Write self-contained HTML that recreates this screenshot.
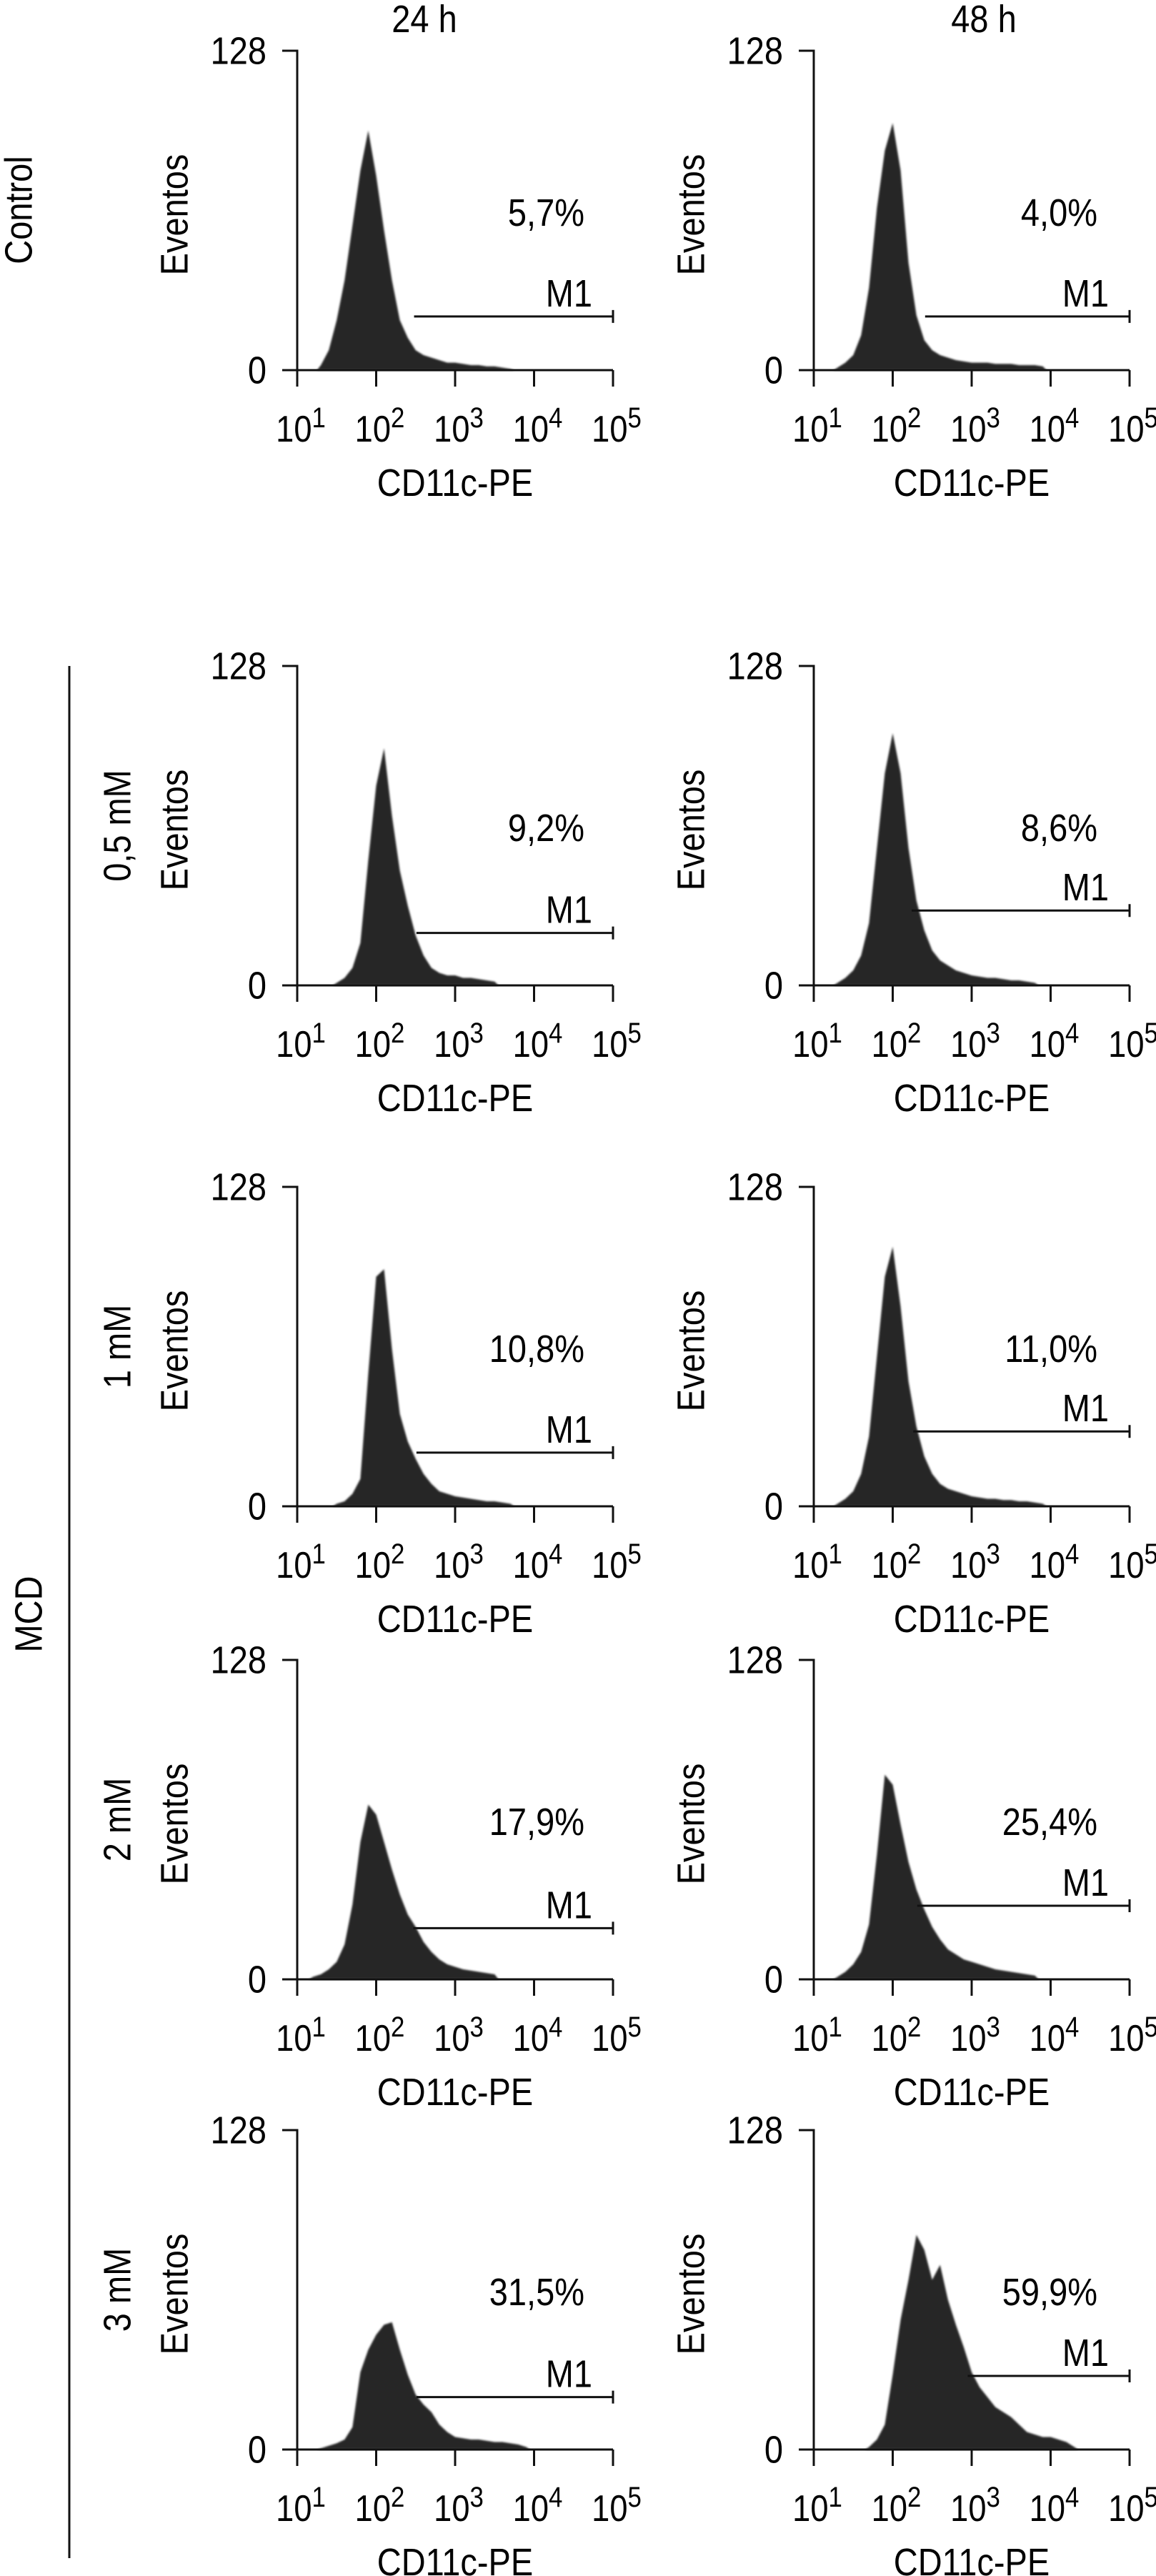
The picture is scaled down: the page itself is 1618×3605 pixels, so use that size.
<!DOCTYPE html>
<html><head><meta charset="utf-8"><style>
html,body{margin:0;padding:0;background:#fff;}
svg{display:block;font-family:"Liberation Sans",Arial,sans-serif;}
</style></head><body>
<svg id="fig" width="1618" height="3605" viewBox="0 0 1618 3605" xmlns="http://www.w3.org/2000/svg">
<defs><filter id="soft" x="-5%" y="-5%" width="110%" height="110%"><feGaussianBlur stdDeviation="1.4"/></filter></defs>
<text transform="translate(594,45) scale(0.87,1)" font-size="54" text-anchor="middle">24 h</text>
<text transform="translate(1377,45) scale(0.87,1)" font-size="54" text-anchor="middle">48 h</text>
<text transform="translate(26,294) rotate(-90) scale(0.87,1)" font-size="54" text-anchor="middle" dominant-baseline="central">Control</text>
<text transform="translate(40,2259) rotate(-90) scale(0.87,1)" font-size="54" text-anchor="middle" dominant-baseline="central">MCD</text>
<line x1="97" y1="932" x2="97" y2="3580" stroke="#111" stroke-width="3"/>
<g id="panels"></g>
</svg>
<script>
const bins = [1.0,1.1,1.2,1.3,1.4,1.5,1.6,1.7,1.8,1.9,2.0,2.1,2.2,2.3,2.4,2.5,2.6,2.7,2.8,2.9,3.0,3.1,3.2,3.3,3.4,3.5,3.6,3.7,3.8,3.9,4.0,4.1,4.2,4.3,4.4,4.5];
const ctrl24 = [0,0,0,2,8,20,36,58,80,96,78,56,36,20,13,8,6,5,4,3,3,2.5,2,2,1.5,1.5,1,0.5,0,0,0,0,0,0,0,0];
const ctrl48 = [0,0,0,1,3,6,14,33,65,88,99,80,43,22,12,8,6,5,4,3.5,3,3,3,2.5,2.5,2.5,2,2,2,1.5,0,0,0,0,0,0];
const mcd05_24 = [0,0,0,0,0,1,3,7,17,50,80,95,68,46,32,20,12,7,5,4,4,3,3,2.5,2,1.5,0,0,0,0,0,0,0,0,0,0];
const mcd05_48 = [0,0,0,1,3,6,12,25,55,85,101,85,55,34,22,14,10,8,6,5,4,3.5,3,3,2.5,2,2,1.5,1,0,0,0,0,0,0,0];
const mcd1_24 = [0,0,0,0,0,1,2,5,11,53,92,95,63,37,26,19,13,9,6,5,4,3.5,3,2.5,2,2,1.5,1,0,0,0,0,0,0,0,0];
const mcd1_48 = [0,0,0,1,3,6,13,28,60,92,104,80,50,32,20,13,9,7,6,5,4,3.5,3,3,2.5,2.5,2,2,1.5,1,0,0,0,0,0,0];
const mcd2_24 = [0,0,1,2,4,7,14,30,55,70,66,55,44,34,26,21,15,11,8,6,5,4,3.5,3,2.5,2,0,0,0,0,0,0,0,0,0,0];
const mcd2_48 = [0,0,0,1,3,6,11,22,50,82,78,62,47,36,28,21,16,12,10,8,7,6,5,4,3.5,3,2.5,2,1.5,0,0,0,0,0,0,0];
const mcd3_24 = [0,0,0,0.5,1.5,2.5,4,9,31,40,46,50,51,40,30,22,18,15,10,7,5,4.5,4,4,3.5,3,3,2.5,2,1,0,0,0,0,0,0];
const mcd3_48 = [0,0,0,0,0,0,0,1,4,10,30,52,68,86,80,68,74,60,50,41,31,25,21,17,15,13,10,7,6,5,5,4,3,1,0,0];
const series = [ctrl24, ctrl48, mcd05_24, mcd05_48, mcd1_24, mcd1_48, mcd2_24, mcd2_48, mcd3_24, mcd3_48];
const percents = ["5,7%","4,0%","9,2%","8,6%","10,8%","11,0%","17,9%","25,4%","31,5%","59,9%"];
const m1Start = [2.48,2.41,2.51,2.24,2.51,2.26,2.47,2.31,2.51,2.95];
const m1Level = [21.5,21.5,21,30,21.5,30,20.5,29.5,21,29.5];
const doseLabels = ["","0,5 mM","1 mM","2 mM","3 mM"];
const xTickExp = [1,2,3,4,5];
const yTickLabels = ["128","0"];

const NS = "http://www.w3.org/2000/svg";
const rowTops = [71,932,1661,2323,2981];
const rowH = 447;
const colX = [416,1139];
const axW = 442;
const SX = 0.87;
const root = document.getElementById('panels');
function mk(tag, attrs, parent){const e=document.createElementNS(NS,tag);for(const k in attrs)e.setAttribute(k,attrs[k]);(parent||root).appendChild(e);return e;}

for(let r=0;r<5;r++){
  const top=rowTops[r], zero=top+rowH, mid=(top+zero)/2;
  if(doseLabels[r]){
    const d=mk('text',{transform:`translate(164,${mid}) rotate(-90) scale(${SX},1)`,'font-size':54,'text-anchor':'middle','dominant-baseline':'central'});
    
    
    d.textContent=doseLabels[r];
  }
  for(let c=0;c<2;c++){
    const i=r*2+c;
    const x0=colX[c];
    const xs=v=>x0+(v-1)/4*axW;
    const ys=v=>zero-v/128*rowH;
    const g=mk('g',{});
    
    
    const data=series[i];
    let first=-1,last=-1;
    for(let k=0;k<data.length;k++){if(data[k]>0){if(first<0)first=k;last=k;}}
    let dpath=`M${xs(bins[first]-0.05)},${zero}`;
    for(let k=first;k<=last;k++){dpath+=` L${xs(bins[k])},${ys(data[k])}`;}
    dpath+=` L${xs(bins[last]+0.05)},${zero} Z`;
    const h=mk('path',{d:dpath,fill:'#262626',filter:'url(#soft)'},g);
    
    
    const ya=mk('path',{d:`M${x0-21},${top} H${x0} V${zero}`,fill:'none',stroke:'#111','stroke-width':3},g);
    
    
    const xa=mk('line',{x1:x0-21,y1:zero,x2:x0+axW,y2:zero,stroke:'#111','stroke-width':3},g);
    
    
    const t1=mk('text',{transform:`translate(${x0-43},${top}) scale(${SX},1)`,'font-size':54,'text-anchor':'end','dominant-baseline':'central'},g);
    
    
    t1.textContent=yTickLabels[0];
    const t0=mk('text',{transform:`translate(${x0-43},${zero}) scale(${SX},1)`,'font-size':54,'text-anchor':'end','dominant-baseline':'central'},g);
    
    
    t0.textContent=yTickLabels[1];
    for(const e of xTickExp){
      const tx=xs(e);
      const tk=mk('line',{x1:tx,y1:zero,x2:tx,y2:zero+23,stroke:'#111','stroke-width':3},g);
      
      
      const tl=mk('text',{transform:`translate(${tx+5},${zero+100}) scale(${SX},1)`,'font-size':52,'text-anchor':'middle'},g);
      
      
      const a=mk('tspan',{},tl);a.textContent='10';
      const b=mk('tspan',{'font-size':40,dy:-20},tl);b.textContent=String(e);
    }
    const xt=mk('text',{transform:`translate(${x0+axW/2},${zero+176}) scale(${SX},1)`,'font-size':54,'text-anchor':'middle'},g);
    
    
    xt.textContent='CD11c-PE';
    const yt=mk('text',{transform:`translate(${x0-172},${mid+6}) rotate(-90) scale(${SX},1)`,'font-size':54,'text-anchor':'middle','dominant-baseline':'central'},g);
    
    
    yt.textContent='Eventos';
    const pt=mk('text',{transform:`translate(${x0+402-(c?5:0)},${top+245}) scale(${SX},1)`,'font-size':54,'text-anchor':'end'},g);
    
    
    pt.textContent=percents[i];
    const my=ys(m1Level[i]);
    const ml=mk('path',{d:`M${xs(m1Start[i])},${my} H${x0+axW} M${x0+axW},${my-9} V${my+9}`,fill:'none',stroke:'#111','stroke-width':3},g);
    
    
    const mt=mk('text',{transform:`translate(${x0+axW-29},${my-14}) scale(${SX},1)`,'font-size':54,'text-anchor':'end'},g);
    
    
    mt.textContent='M1';
  }
}
</script>
</body></html>
